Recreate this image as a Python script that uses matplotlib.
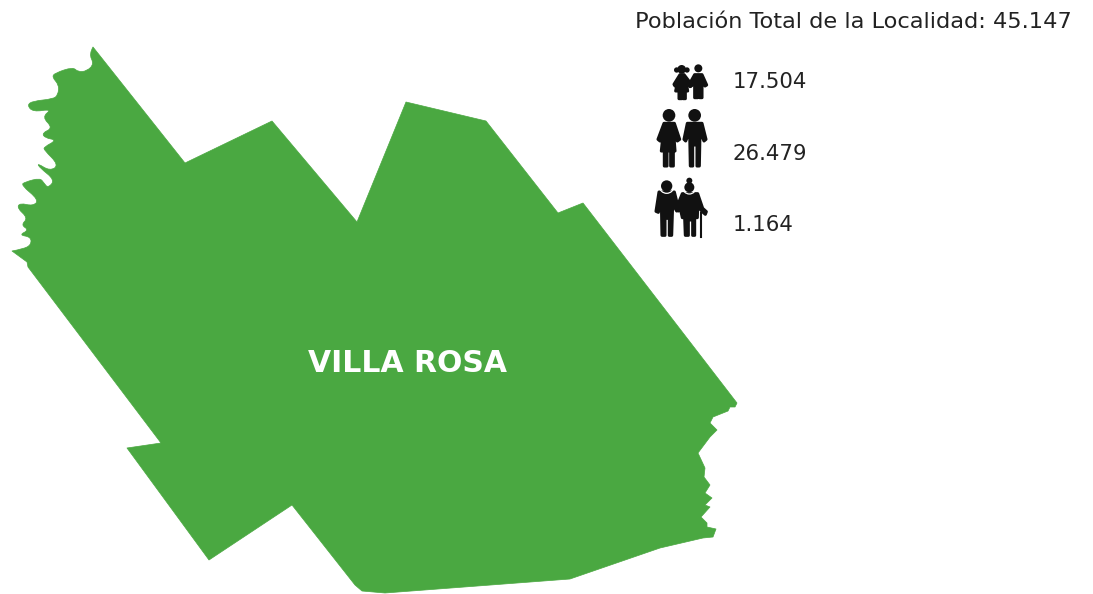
import matplotlib
matplotlib.use("Agg")
import matplotlib.pyplot as plt
from matplotlib.patches import Polygon, Circle, PathPatch
from matplotlib.path import Path

# text content
title_text = "Población Total de la Localidad: 45.147"
map_label = "VILLA ROSA"
group_values = ["17.504", "26.479", "1.164"]

GREEN = "#4aa841"
TEXT = "#222222"
ICON = "#111111"

# west coast of the map in image pixels, north tip to south-west tip (gets rounded below)
coast_x = [93, 89, 94, 87, 78, 73, 55, 52, 59, 58, 53, 33, 27, 33, 52, 42, 53, 42, 45, 57, 44, 44, 59, 50,
           37, 40, 55, 48, 44, 40, 25, 21, 39, 33, 20, 17, 28, 21, 29, 19, 31, 31, 23, 12]
coast_y = [47, 54, 64, 71, 72, 67, 73, 77, 85, 95, 99, 101, 105, 112, 109, 117, 128, 133, 138, 140, 147, 150, 165, 171,
           163, 168, 180, 188, 183, 178, 182, 185, 200, 206, 203, 208, 218, 225, 230, 235, 237, 245, 249, 251]
# rest of the outline, clockwise from the south-west tip
border_x = [27, 28, 161, 127, 209, 292, 355, 362, 385, 570, 660, 703, 713, 716, 707, 707, 701, 710, 705, 712,
            705, 710, 704, 705, 698, 710, 717, 710, 713, 728, 730, 735, 737,
            583, 558, 486, 406, 357, 272, 185]
border_y = [262, 267, 443, 448, 560, 505, 585, 591, 593, 579, 548, 538, 537, 529, 527, 523, 517, 507, 505, 498,
            493, 485, 477, 468, 453, 437, 430, 423, 417, 411, 407, 407, 403,
            203, 213, 121, 102, 222, 121, 163]

girl_heads = [(155, 58, 13), (140, 60, 8), (171, 60, 8)]
girl_body = [(150, 74), (162, 74), (172, 87), (186, 105), (182, 109), (168, 95), (173, 123), (166, 123), (166, 146),
             (159, 146), (159, 128), (155, 128), (155, 146), (147, 146), (147, 123), (137, 123), (143, 95), (135, 108),
             (132, 103), (145, 82)]
boy_heads = [(205, 55, 12)]
boy_body = [(194, 74), (216, 74), (230, 105), (225, 108), (216, 92), (216, 143), (209, 143), (209, 115), (203, 115),
            (203, 143), (194, 143), (194, 100), (180, 110), (176, 106)]
woman_heads = [(117, 196, 19)]
woman_body = [(102, 220), (133, 220), (149, 268), (142, 273), (131, 250), (135, 303), (130, 303), (130, 348), (122, 348),
              (122, 303), (111, 303), (111, 348), (103, 348), (103, 303), (94, 303), (99, 255), (90, 273), (84, 268)]
man_heads = [(194, 196, 19)]
man_body = [(172, 220), (216, 220), (228, 268), (222, 273), (210, 245), (208, 348), (201, 348), (201, 285), (188, 285),
            (188, 348), (181, 348), (179, 245), (167, 273), (162, 268)]
oldman_heads = [(110, 408, 17)]
oldman_body = [(87, 426), (133, 426), (146, 478), (140, 483), (128, 462), (125, 556), (118, 556), (118, 505), (105, 505),
               (105, 556), (96, 556), (94, 450), (85, 487), (78, 484)]
oldwoman_heads = [(178, 412, 15), (178, 392, 9)]
oldwoman_body = [(157, 431), (203, 431), (218, 475), (229, 485), (226, 493), (218, 486), (203, 470), (202, 503), (194, 503),
                 (194, 556), (188, 556), (188, 510), (175, 510), (175, 556), (166, 556), (164, 503), (157, 503), (152, 480),
                 (145, 483), (141, 470)]
cane_x = [212, 212]
cane_y = [490, 560]


def crop_px(x, y):
    return x / 3 + 630, y / 3 + 50


def map_path():
    # quadratic curves through the coast points so the inlets come out round
    verts = [(coast_x[0], coast_y[0])]
    codes = [Path.MOVETO]
    for i in range(1, len(coast_x) - 1):
        end = ((coast_x[i] + coast_x[i + 1]) / 2, (coast_y[i] + coast_y[i + 1]) / 2)
        if i == len(coast_x) - 2:
            end = (coast_x[-1], coast_y[-1])
        verts += [(coast_x[i], coast_y[i]), end]
        codes += [Path.CURVE3, Path.CURVE3]
    for x, y in zip(border_x, border_y):
        verts.append((x, y))
        codes.append(Path.LINETO)
    verts.append((coast_x[0], coast_y[0]))
    codes.append(Path.CLOSEPOLY)
    return Path(verts, codes)


fig = plt.figure(figsize=(10.93, 5.94), dpi=100)
ax = fig.add_axes([0, 0, 1, 1])
ax.set_xlim(0, 1093)
ax.set_ylim(594, 0)
ax.axis("off")

ax.add_patch(PathPatch(map_path(), facecolor=GREEN, edgecolor=GREEN, lw=0.5, joinstyle="round"))

shapes = [(girl_heads, girl_body), (boy_heads, boy_body), (woman_heads, woman_body), (man_heads, man_body),
          (oldman_heads, oldman_body), (oldwoman_heads, oldwoman_body)]
for heads, body in shapes:
    ax.add_patch(Polygon([crop_px(x, y) for x, y in body], closed=True, facecolor=ICON, edgecolor=ICON,
                         lw=2.2, joinstyle="round", zorder=3))
    for hx, hy, r in heads:
        ax.add_patch(Circle(crop_px(hx, hy), r / 3, facecolor=ICON, edgecolor="none", zorder=5))

# white collars on the two older figures
ax.add_patch(Circle(crop_px(110, 408), 22 / 3, facecolor="none", edgecolor="white", lw=0.9, zorder=4))
ax.add_patch(Circle(crop_px(178, 412), 20 / 3, facecolor="none", edgecolor="white", lw=0.9, zorder=4))

cx, cy = crop_px(cane_x[0], cane_y[0])
cx2, cy2 = crop_px(cane_x[1], cane_y[1])
ax.plot([cx, cx2], [cy, cy2], color=ICON, lw=1.5, zorder=3)

ax.text(853, 22, title_text, family="DejaVu Sans", fontsize=16.2, color=TEXT, ha="center", va="center")
ax.text(408, 364, map_label, family="DejaVu Sans", fontweight="bold", fontsize=21.5, color="white", ha="center", va="center")
for val, y in zip(group_values, [82, 154, 225]):
    ax.text(733, y, val, family="DejaVu Sans", fontsize=15.3, color=TEXT, ha="left", va="center")

fig.savefig("out.png", dpi=100)
